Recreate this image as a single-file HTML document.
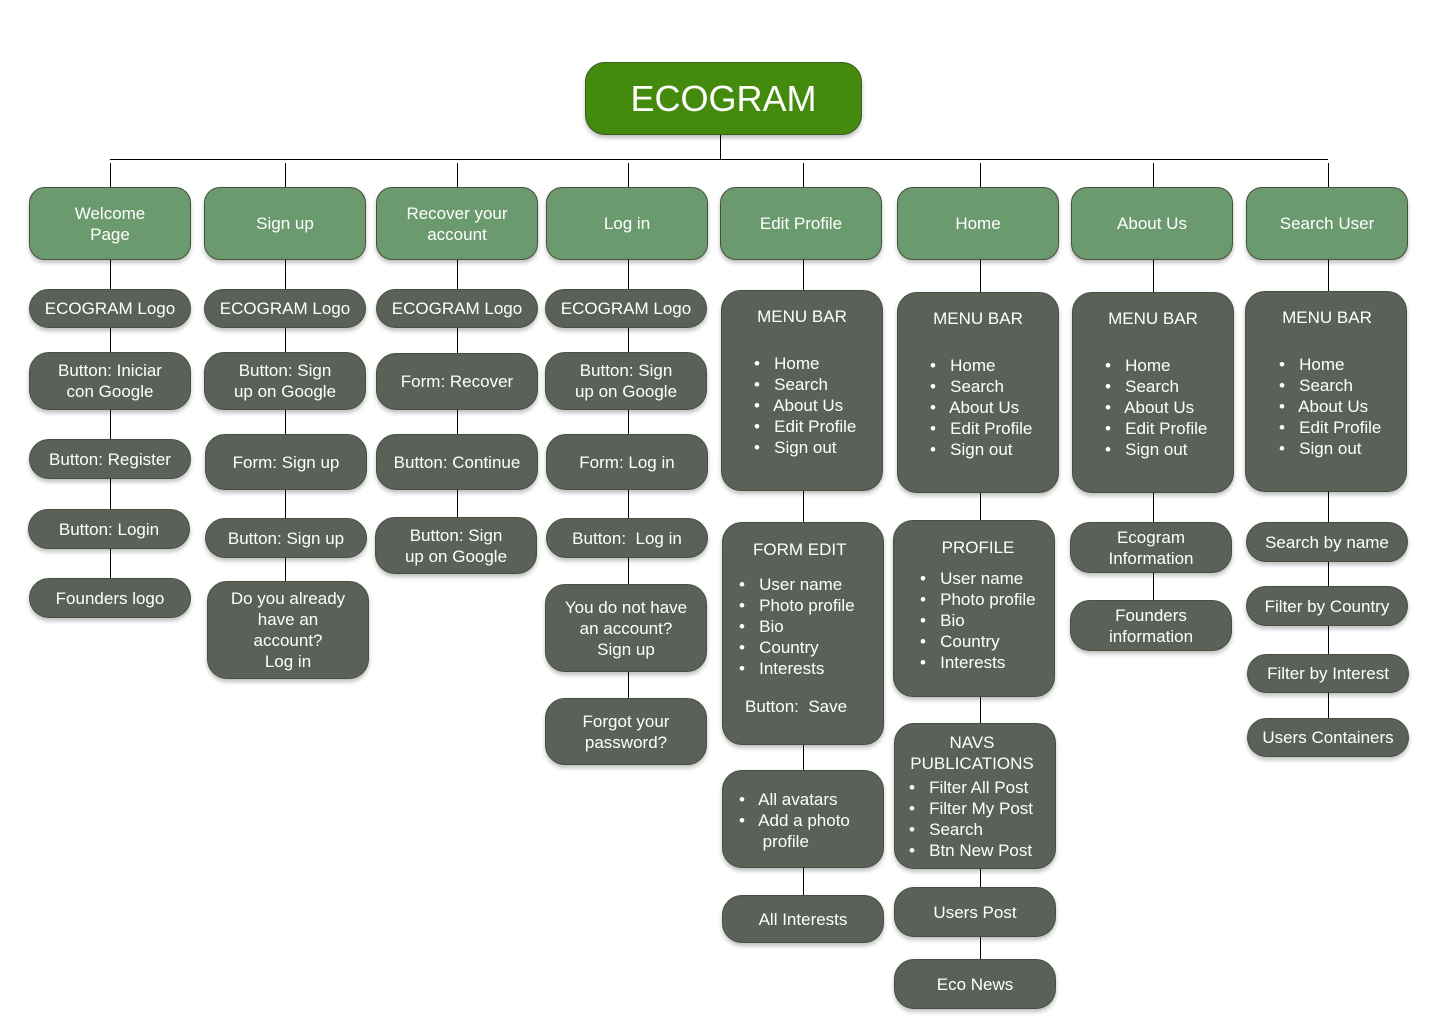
<!DOCTYPE html>
<html><head><meta charset="utf-8"><style>
body{margin:0;width:1440px;height:1024px;background:#fff;position:relative;overflow:hidden;font-family:"Liberation Sans",Arial,sans-serif;}
.b{position:absolute;box-sizing:border-box;border:1px solid #46503f;border-radius:16px;color:#fff;font-size:17px;line-height:21px;display:flex;align-items:center;justify-content:center;text-align:center;box-shadow:0 3px 4px rgba(0,0,0,.25);}
.g{background:#6a9a6e;}
.d{background:#5a6158;border-radius:20px;}
.l{position:absolute;background:#000;width:1px;}
.t{position:absolute;color:#fff;font-size:17px;line-height:21px;white-space:nowrap;}
.c{transform:translateX(-50%);}
</style></head><body>
<div class="b" style="left:585px;top:62px;width:277px;height:73px;background:#448a0c;border-color:#3a5a20;font-size:36px;border-radius:20px;">ECOGRAM</div>
<div class="l" style="left:720px;top:135px;height:25px"></div>
<div style="position:absolute;left:110px;top:159px;width:1218px;height:1px;background:#000"></div>

<!-- vertical column lines -->
<div class="l" style="left:110px;top:163px;height:440px"></div>
<div class="l" style="left:285px;top:163px;height:450px"></div>
<div class="l" style="left:457px;top:163px;height:380px"></div>
<div class="l" style="left:628px;top:163px;height:560px"></div>
<div class="l" style="left:803px;top:163px;height:750px"></div>
<div class="l" style="left:980px;top:163px;height:820px"></div>
<div class="l" style="left:1153px;top:163px;height:460px"></div>
<div class="l" style="left:1328px;top:163px;height:570px"></div>

<!-- headers -->
<div class="b g" style="left:29px;top:187px;width:162px;height:73px">Welcome<br>Page</div>
<div class="b g" style="left:204px;top:187px;width:162px;height:73px">Sign up</div>
<div class="b g" style="left:376px;top:187px;width:162px;height:73px">Recover your<br>account</div>
<div class="b g" style="left:546px;top:187px;width:162px;height:73px">Log in</div>
<div class="b g" style="left:720px;top:187px;width:162px;height:73px">Edit Profile</div>
<div class="b g" style="left:897px;top:187px;width:162px;height:73px">Home</div>
<div class="b g" style="left:1071px;top:187px;width:162px;height:73px">About Us</div>
<div class="b g" style="left:1246px;top:187px;width:162px;height:73px">Search User</div>

<!-- col1 -->
<div class="b d" style="left:29px;top:289px;width:162px;height:39px">ECOGRAM Logo</div>
<div class="b d" style="left:29px;top:352px;width:162px;height:58px">Button: Iniciar<br>con Google</div>
<div class="b d" style="left:29px;top:439px;width:162px;height:40px">Button: Register</div>
<div class="b d" style="left:28px;top:509px;width:162px;height:40px">Button: Login</div>
<div class="b d" style="left:29px;top:578px;width:162px;height:40px">Founders logo</div>
<!-- col2 -->
<div class="b d" style="left:204px;top:289px;width:162px;height:39px">ECOGRAM Logo</div>
<div class="b d" style="left:204px;top:352px;width:162px;height:58px">Button: Sign<br>up on Google</div>
<div class="b d" style="left:205px;top:434px;width:162px;height:56px">Form: Sign up</div>
<div class="b d" style="left:205px;top:518px;width:162px;height:40px">Button: Sign up</div>
<div class="b d" style="left:207px;top:581px;width:162px;height:98px">Do you already<br>have an<br>account?<br>Log in</div>
<!-- col3 -->
<div class="b d" style="left:376px;top:289px;width:162px;height:39px">ECOGRAM Logo</div>
<div class="b d" style="left:376px;top:353px;width:162px;height:57px">Form: Recover</div>
<div class="b d" style="left:376px;top:434px;width:162px;height:56px">Button: Continue</div>
<div class="b d" style="left:375px;top:517px;width:162px;height:57px">Button: Sign<br>up on Google</div>
<!-- col4 -->
<div class="b d" style="left:545px;top:289px;width:162px;height:39px">ECOGRAM Logo</div>
<div class="b d" style="left:545px;top:352px;width:162px;height:58px">Button: Sign<br>up on Google</div>
<div class="b d" style="left:546px;top:434px;width:162px;height:56px">Form: Log in</div>
<div class="b d" style="left:546px;top:518px;width:162px;height:40px">Button:&nbsp; Log in</div>
<div class="b d" style="left:545px;top:584px;width:162px;height:88px">You do not have<br>an account?<br>Sign up</div>
<div class="b d" style="left:545px;top:698px;width:162px;height:67px">Forgot your<br>password?</div>

<!-- col5 -->
<div class="b d" style="left:721px;top:290px;width:162px;height:201px"></div>
<div class="t c" style="left:802px;top:306px">MENU BAR</div>
<div class="t" style="left:754px;top:353px">•&nbsp;&nbsp; Home<br>•&nbsp;&nbsp; Search<br>•&nbsp;&nbsp; About Us<br>•&nbsp;&nbsp; Edit Profile<br>•&nbsp;&nbsp; Sign out</div>
<div class="b d" style="left:722px;top:522px;width:162px;height:223px"></div>
<div class="t" style="left:753px;top:539px">FORM EDIT</div>
<div class="t" style="left:739px;top:574px">•&nbsp;&nbsp; User name<br>•&nbsp;&nbsp; Photo profile<br>•&nbsp;&nbsp; Bio<br>•&nbsp;&nbsp; Country<br>•&nbsp;&nbsp; Interests</div>
<div class="t" style="left:745px;top:696px">Button:&nbsp; Save</div>
<div class="b d" style="left:722px;top:770px;width:162px;height:98px"></div>
<div class="t" style="left:739px;top:789px">•&nbsp;&nbsp; All avatars<br>•&nbsp;&nbsp; Add a photo<br>&nbsp;&nbsp;&nbsp;&nbsp; profile</div>
<div class="b d" style="left:722px;top:895px;width:162px;height:48px">All Interests</div>

<!-- col6 -->
<div class="b d" style="left:897px;top:292px;width:162px;height:201px"></div>
<div class="t c" style="left:978px;top:308px">MENU BAR</div>
<div class="t" style="left:930px;top:355px">•&nbsp;&nbsp; Home<br>•&nbsp;&nbsp; Search<br>•&nbsp;&nbsp; About Us<br>•&nbsp;&nbsp; Edit Profile<br>•&nbsp;&nbsp; Sign out</div>
<div class="b d" style="left:893px;top:520px;width:162px;height:177px"></div>
<div class="t c" style="left:978px;top:537px">PROFILE</div>
<div class="t" style="left:920px;top:568px">•&nbsp;&nbsp; User name<br>•&nbsp;&nbsp; Photo profile<br>•&nbsp;&nbsp; Bio<br>•&nbsp;&nbsp; Country<br>•&nbsp;&nbsp; Interests</div>
<div class="b d" style="left:894px;top:723px;width:162px;height:146px"></div>
<div class="t c" style="left:972px;top:732px;text-align:center">NAVS<br>PUBLICATIONS</div>
<div class="t" style="left:909px;top:777px">•&nbsp;&nbsp; Filter All Post<br>•&nbsp;&nbsp; Filter My Post<br>•&nbsp;&nbsp; Search<br>•&nbsp;&nbsp; Btn New Post</div>
<div class="b d" style="left:894px;top:887px;width:162px;height:50px">Users Post</div>
<div class="b d" style="left:894px;top:959px;width:162px;height:50px">Eco News</div>

<!-- col7 -->
<div class="b d" style="left:1072px;top:292px;width:162px;height:201px"></div>
<div class="t c" style="left:1153px;top:308px">MENU BAR</div>
<div class="t" style="left:1105px;top:355px">•&nbsp;&nbsp; Home<br>•&nbsp;&nbsp; Search<br>•&nbsp;&nbsp; About Us<br>•&nbsp;&nbsp; Edit Profile<br>•&nbsp;&nbsp; Sign out</div>
<div class="b d" style="left:1070px;top:522px;width:162px;height:51px">Ecogram<br>Information</div>
<div class="b d" style="left:1070px;top:600px;width:162px;height:51px">Founders<br>information</div>

<!-- col8 -->
<div class="b d" style="left:1245px;top:291px;width:162px;height:201px"></div>
<div class="t c" style="left:1327px;top:307px">MENU BAR</div>
<div class="t" style="left:1279px;top:354px">•&nbsp;&nbsp; Home<br>•&nbsp;&nbsp; Search<br>•&nbsp;&nbsp; About Us<br>•&nbsp;&nbsp; Edit Profile<br>•&nbsp;&nbsp; Sign out</div>
<div class="b d" style="left:1246px;top:522px;width:162px;height:40px">Search by name</div>
<div class="b d" style="left:1246px;top:586px;width:162px;height:40px">Filter by Country</div>
<div class="b d" style="left:1247px;top:654px;width:162px;height:39px">Filter by Interest</div>
<div class="b d" style="left:1247px;top:718px;width:162px;height:39px">Users Containers</div>
</body></html>
